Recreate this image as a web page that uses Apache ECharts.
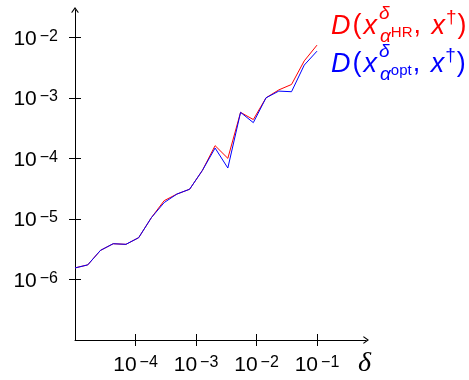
<!DOCTYPE html>
<html>
<head>
<meta charset="utf-8">
<title></title>
<script src="https://cdn.jsdelivr.net/npm/echarts@6.0.0/dist/echarts.min.js"></script>
<style>
  html, body { margin: 0; padding: 0; background: #fff; }
  #main { width: 469px; height: 380px; }
</style>
</head>
<body>
<div id="main"></div>
<script>
// noise levels delta (20 log-spaced values, 1e-5 .. 1e-1)
var deltas = [1.000e-5, 1.624e-5, 2.637e-5, 4.281e-5, 6.952e-5, 1.129e-4, 1.833e-4, 2.976e-4, 4.833e-4, 7.848e-4,
              1.274e-3, 2.069e-3, 3.360e-3, 5.456e-3, 8.859e-3, 1.438e-2, 2.336e-2, 3.793e-2, 6.158e-2, 1.000e-1];
// error with alpha from the HR rule (red)
var errHR = [1.55e-6, 1.74e-6, 3.02e-6, 3.89e-6, 3.80e-6, 4.90e-6, 1.05e-5, 2.00e-5, 2.57e-5, 3.09e-5,
             6.31e-5, 1.62e-4, 1.00e-4, 5.75e-4, 4.37e-4, 1.00e-3, 1.35e-3, 1.66e-3, 4.07e-3, 7.41e-3];
// error with the optimal alpha (blue)
var errOpt = [1.55e-6, 1.74e-6, 3.02e-6, 3.89e-6, 3.80e-6, 4.90e-6, 1.05e-5, 1.86e-5, 2.57e-5, 3.09e-5,
              6.31e-5, 1.48e-4, 6.92e-5, 5.75e-4, 3.89e-4, 1.00e-3, 1.29e-3, 1.26e-3, 3.47e-3, 5.89e-3];
var xTicks = [1e-4, 1e-3, 1e-2, 1e-1];
var yTicks = [1e-6, 1e-5, 1e-4, 1e-3, 1e-2];

var FONT = 'Liberation Sans';
var arrowPath = 'path://M5,0 L10,7 L9,8 L5,2.5 L1,8 L0,7 Z';

function pairs(xs, ys) {
    var out = [];
    for (var i = 0; i < xs.length; i++) out.push([xs[i], ys[i]]);
    return out;
}
function powLabel(v) {
    var e = Math.round(Math.log10(v));
    return '{b|10}{s|\u2212' + Math.abs(e) + '}';
}
var powRich = {
    b: { fontFamily: FONT, fontSize: 21, color: '#000', lineHeight: 24, verticalAlign: 'bottom', padding: [6, 0, 0, 0] },
    s: { fontFamily: FONT, fontSize: 16, color: '#000', lineHeight: 14, verticalAlign: 'top', padding: [3, 0, 0, 3] }
};

// legend rich styles, one set per colour
function legendRich(p, c) {
    var r = {};
    r[p + 'I'] = { fontFamily: FONT, fontStyle: 'italic', fontSize: 27, color: c, lineHeight: 44, verticalAlign: 'middle' };
    r[p + 'U'] = { fontFamily: FONT, fontSize: 27, color: c, lineHeight: 44, verticalAlign: 'middle' };
    r[p + 'C'] = { fontFamily: FONT, fontSize: 27, color: c, lineHeight: 44, verticalAlign: 'middle', padding: [0, 3, 0, 0] };
    r[p + 'P'] = { fontFamily: FONT, fontSize: 27, color: c, lineHeight: 44, verticalAlign: 'middle', padding: [0, 2, 0, 2] };
    r[p + 'd'] = { fontFamily: FONT, fontStyle: 'italic', fontSize: 19, color: c, lineHeight: 16, verticalAlign: 'top', width: 1, padding: [0, 0, 0, 2] };
    r[p + 'a'] = { fontFamily: FONT, fontStyle: 'italic', fontSize: 19, color: c, lineHeight: 16, verticalAlign: 'bottom', padding: [0, 0, 2, 0] };
    r[p + 'h'] = { fontFamily: FONT, fontSize: 15, color: c, lineHeight: 14, verticalAlign: 'bottom', padding: [0, 1, 8, 0] };
    r[p + 't'] = { fontFamily: FONT, fontSize: 19, color: c, lineHeight: 18, verticalAlign: 'top', padding: [4, 1, 0, 1] };
    return r;
}
var names = ['HR', 'opt'];
var colors = ['#ff0000', '#0000ff'];
var rich = Object.assign({}, legendRich('r', colors[0]), legendRich('k', colors[1]));

function legendText(name) {
    var p = name === names[0] ? 'r' : 'k';
    return '{' + p + 'I|D}{' + p + 'P|(}{' + p + 'I|x}{' + p + 'd|\u03b4}{' + p + 'a|\u03b1}{' + p + 'h|' + name +
        '}{' + p + 'C|, }{' + p + 'I|x}{' + p + 't|\u2020}{' + p + 'U|)}';
}

var xMin = 1e-5, xMax = Math.pow(10, -0.19);
var yMin = 1e-7, yMax = Math.pow(10, -1.55);

function xAxisCfg(inside, main) {
    return {
        type: 'log', min: xMin, max: xMax, position: 'bottom',
        name: main ? '\u03b4' : '', nameLocation: 'end', nameGap: -8,
        nameTextStyle: { fontFamily: 'Liberation Serif', fontStyle: 'italic', fontSize: 28, color: '#000',
                         verticalAlign: 'top', padding: [10, 0, 0, 0] },
        axisLine: { show: main, symbol: ['none', arrowPath], symbolSize: [9, 6],
                    lineStyle: { color: '#000', width: 1 } },
        axisTick: { show: true, inside: inside, length: 6, customValues: xTicks,
                    lineStyle: { color: '#000', width: 1 } },
        axisLabel: { show: main, customValues: xTicks, formatter: powLabel, rich: powRich, margin: 12 },
        splitLine: { show: false }
    };
}
function yAxisCfg(inside, main) {
    return {
        type: 'log', min: yMin, max: yMax, position: 'left',
        axisLine: { show: main, symbol: ['none', arrowPath], symbolSize: [9, 6],
                    lineStyle: { color: '#000', width: 1 } },
        axisTick: { show: true, inside: inside, length: 6, customValues: yTicks,
                    lineStyle: { color: '#000', width: 1 } },
        axisLabel: { show: main, customValues: yTicks, formatter: powLabel, rich: powRich, margin: 17 },
        splitLine: { show: false }
    };
}

var myChart = echarts.init(document.getElementById('main'));
myChart.setOption({
    animation: false,
    backgroundColor: '#fff',
    grid: { left: 75, top: 10, right: 103, bottom: 40, containLabel: false },
    legend: {
        orient: 'vertical', left: 326, top: 4, padding: 0, itemGap: -6,
        itemWidth: 0, itemHeight: 0, icon: 'none',
        data: names,
        formatter: legendText,
        textStyle: { rich: rich }
    },
    xAxis: [xAxisCfg(false, true), xAxisCfg(true, false)],
    yAxis: [yAxisCfg(false, true), yAxisCfg(true, false)],
    series: [
        { name: names[0], type: 'line', data: pairs(deltas, errHR), showSymbol: false, symbol: 'none',
          lineStyle: { color: colors[0], width: 1 }, itemStyle: { color: colors[0] } },
        { name: names[1], type: 'line', data: pairs(deltas, errOpt), showSymbol: false, symbol: 'none',
          lineStyle: { color: colors[1], width: 1 }, itemStyle: { color: colors[1] } }
    ]
});
</script>
</body>
</html>
